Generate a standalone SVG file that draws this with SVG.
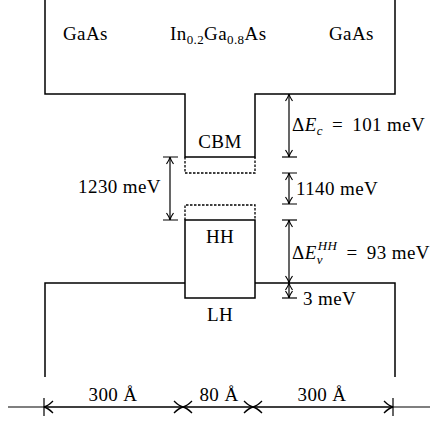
<svg xmlns="http://www.w3.org/2000/svg" width="439" height="421" viewBox="0 0 439 421">
<style>
.ln{fill:none;stroke:#000;stroke-width:1.5}
.th{fill:none;stroke:#000;stroke-width:1.2}
.ds{fill:none;stroke:#000;stroke-width:1.3;stroke-dasharray:2.5 1.5}
text{font-family:"Liberation Serif","DejaVu Serif",serif;font-size:19px;letter-spacing:0.4px;fill:#000}
.it{font-style:italic}
.sm{font-size:13px}
.ws{word-spacing:4px}
</style>
<defs>
<marker id="ah" viewBox="-9 -5 10 10" refX="0" refY="0" markerWidth="10" markerHeight="10" orient="auto-start-reverse" markerUnits="userSpaceOnUse">
<path d="M-7,-3.5 Q-3,-0.6 0,0 Q-3,0.6 -7,3.5" fill="none" stroke="#000" stroke-width="1.2"/>
</marker>
<marker id="ab" viewBox="-11 -7 12 14" refX="0" refY="0" markerWidth="12" markerHeight="14" orient="auto-start-reverse" markerUnits="userSpaceOnUse">
<path d="M-9,-6 Q-4,-1 0,0 Q-4,1 -9,6" fill="none" stroke="#000" stroke-width="1.3"/>
</marker>
</defs>
<g id="bands">
<path class="ln" d="M45,0 V94 H185 V157 H255 V94 H395 V0"/>
<path class="ln" d="M45,377 V283 H185"/>
<path class="ln" d="M255,283 H395 V377"/>
</g>
<g id="cbm">
<path class="ds" d="M185,157 V173 H255 V157"/>
<text x="220" y="148" text-anchor="middle">CBM</text>
</g>
<g id="hh">
<path class="ds" d="M185,220 V205 H255 V220"/>
<rect class="ln" x="185" y="220" width="70" height="78"/>
<text x="220" y="243" text-anchor="middle">HH</text>
</g>
<g id="lh">
<text x="220" y="321" text-anchor="middle">LH</text>
</g>
<g id="labels">
<text x="63" y="40">GaAs</text>
<text x="170" y="40">In<tspan class="sm" dy="4">0.2</tspan><tspan dy="-4">Ga</tspan><tspan class="sm" dy="4">0.8</tspan><tspan dy="-4">As</tspan></text>
<text x="329" y="40">GaAs</text>
</g>
<g id="connectors">
<path class="th" d="M289,94 V157" marker-start="url(#ah)" marker-end="url(#ah)"/>
<path class="th" d="M282,157 H297"/>
<path class="th" d="M289,173 V204" marker-start="url(#ah)" marker-end="url(#ah)"/>
<path class="th" d="M282,173 H297 M282,204 H297"/>
<path class="th" d="M289,220 V283" marker-start="url(#ah)" marker-end="url(#ah)"/>
<path class="th" d="M282,220 H297"/>
<path class="th" d="M289,283 V298" marker-start="url(#ah)" marker-end="url(#ah)"/>
<path class="th" d="M282,298 H297"/>
<path class="th" d="M170,157 V220" marker-start="url(#ah)" marker-end="url(#ah)"/>
<path class="th" d="M163,157 H178 M163,220 H178"/>
<path class="th" d="M8,407 H430"/>
<path class="th" d="M44,398 V416 M393,398 V416"/>
<path class="th" d="M44,407 H183" marker-start="url(#ab)" marker-end="url(#ab)"/>
<path class="th" d="M183,407 H253" marker-start="url(#ab)" marker-end="url(#ab)"/>
<path class="th" d="M253,407 H393" marker-start="url(#ab)" marker-end="url(#ab)"/>
</g>
<g id="annotations">
<text x="292" y="131">Δ<tspan class="it">E</tspan><tspan class="it sm" dy="4">c</tspan><tspan class="ws" dy="-4"> = </tspan><tspan>101 meV</tspan></text>
<text x="296" y="195">1140 meV</text>
<text x="292" y="259">Δ<tspan class="it">E</tspan><tspan class="it sm" dy="5">v</tspan><tspan class="it sm" dx="-5" dy="-14">HH</tspan><tspan class="ws" dy="9"> = </tspan><tspan>93 meV</tspan></text>
<text x="303" y="305">3 meV</text>
<text x="161" y="193" text-anchor="end">1230 meV</text>
<text x="113" y="401" text-anchor="middle">300 Å</text>
<text x="219" y="401" text-anchor="middle">80 Å</text>
<text x="322" y="401" text-anchor="middle">300 Å</text>
</g>
</svg>
